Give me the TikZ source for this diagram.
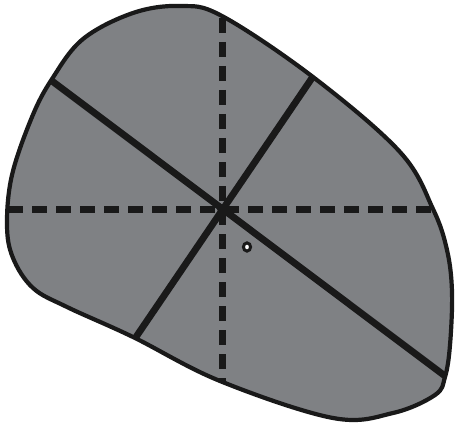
\documentclass[tikz,border=0pt]{standalone}
\usetikzlibrary{calc}
\definecolor{stone}{RGB}{127,129,132}
\tikzset{
  outline/.style={line width=4.2pt, draw=black!90, fill=stone, line join=round},
  cutline/.style={line width=6.8pt, draw=black!90},
  axisline/.style={line width=7pt, draw=black!90, dash pattern=on 15pt off 9pt},
}
\begin{document}
\begin{tikzpicture}[x=1pt,y=-1pt]
\useasboundingbox (0,0) rectangle (455,425);
\draw[outline] plot[smooth cycle, tension=0.6] coordinates {
 (180,6) (222,16) (313,77) (400,152) (433,209) (447,250) (452,292) (450,345)
 (445,377) (435,395) (393,413) (333,418) (220,381) (133,337) (67,307) (33,288)
 (13,258) (7,225) (12,175) (32,117) (52,79) (83,39) (133,13)};
\coordinate (c) at (222,209);
\coordinate (vt) at (222,18);
\coordinate (vb) at (222,382);
\coordinate (hl) at (8,209);
\coordinate (hr) at (431,209);
\coordinate (a1) at (52,81);
\coordinate (a2) at (445,376);
\coordinate (b1) at (312,78);
\coordinate (b2) at (136,337);
\draw[axisline] (vt) -- (vb);
\draw[axisline] (hl) -- (hr);
\draw[cutline] (a1) -- (a2);
\draw[cutline] (b1) -- (b2);
\fill[black!90] (c) circle (5pt);
\draw[line width=3pt, draw=black!90, fill=white] (247,247) ellipse (3.6pt and 4.1pt);
\end{tikzpicture}
\end{document}
